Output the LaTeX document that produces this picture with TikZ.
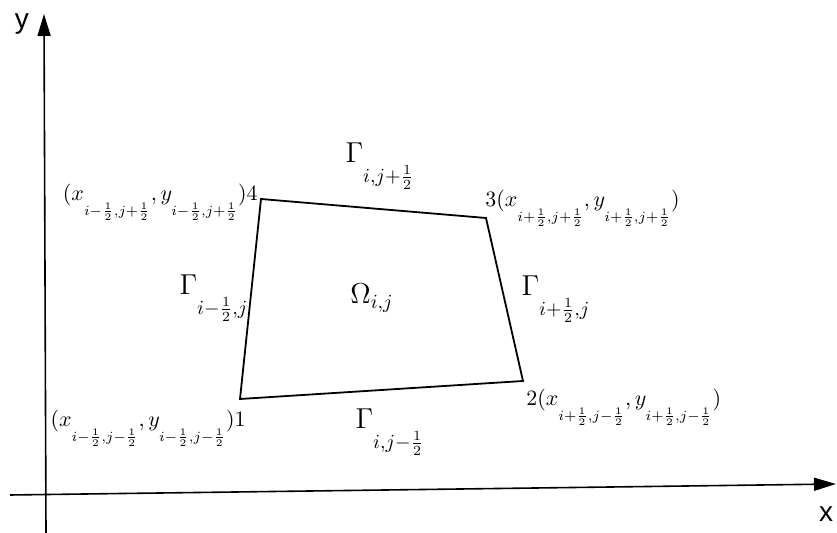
\documentclass[tikz,border=0pt]{standalone}
\usepackage{fontspec}
\newfontfamily\axisfont{Liberation Sans}
\usetikzlibrary{arrows.meta}
\newcommand{\lowsub}[1]{\raisebox{-1.3ex}{$\scriptstyle #1$}}
\newcommand{\hf}{\frac{1}{2}}
\begin{document}
\begin{tikzpicture}[x=0.5pt,y=-0.5pt,
  axis/.style={line width=0.8pt,-{Triangle[length=11pt,width=6.5pt]}},
  cell/.style={line width=0.9pt},
  lbl/.style={inner sep=0pt,font=\fontsize{10.5}{12}\selectfont},
  glbl/.style={inner sep=0pt,font=\fontsize{14}{16}\selectfont},
  axlbl/.style={inner sep=0pt,font=\axisfont\fontsize{14}{16}\selectfont}]
\useasboundingbox (0,0) rectangle (837,533);
% axes
\coordinate (xs) at (10,495);
\coordinate (xe) at (836,484);
\coordinate (ys) at (46,533);
\coordinate (ye) at (44,14);
\draw[axis] (xs) -- (xe);
\draw[axis] (ys) -- (ye);
\node[axlbl] (ylab) at (22,24) {y};
\node[axlbl] (xlab) at (826,514) {x};
% cell
\coordinate (p1) at (240,399);
\coordinate (p2) at (523,381);
\coordinate (p3) at (486,218);
\coordinate (p4) at (261,199);
\draw[cell] (p1) -- (p2) -- (p3) -- (p4) -- cycle;
% labels
\node[glbl] (om) at (372,298) {$\Omega_{i,j}$};
\node[glbl] (gt) at (380,166) {$\Gamma_{\lowsub{i,j+\hf}}$};
\node[glbl] (gb) at (390,432) {$\Gamma_{\lowsub{i,j-\hf}}$};
\node[glbl] (gl) at (214,298) {$\Gamma_{\lowsub{i-\hf,j}}$};
\node[glbl] (gr) at (556,299) {$\Gamma_{\lowsub{i+\hf,j}}$};
\node[lbl,anchor=east] (l4) at (258,202) {$(x_{\lowsub{i-\hf,j+\hf}},y_{\lowsub{i-\hf,j+\hf}})4$};
\node[lbl,anchor=west] (l3) at (485,208) {$3(x_{\lowsub{i+\hf,j+\hf}},y_{\lowsub{i+\hf,j+\hf}})$};
\node[lbl,anchor=east] (l1) at (246,428) {$(x_{\lowsub{i-\hf,j-\hf}},y_{\lowsub{i-\hf,j-\hf}})1$};
\node[lbl,anchor=west] (l2) at (526,407) {$2(x_{\lowsub{i+\hf,j-\hf}},y_{\lowsub{i+\hf,j-\hf}})$};
\end{tikzpicture}
\end{document}
